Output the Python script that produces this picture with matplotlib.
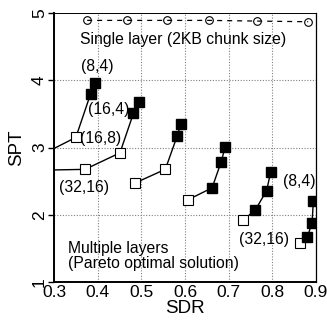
import matplotlib
matplotlib.use("Agg")
import matplotlib.pyplot as plt

plt.rcParams['font.family'] = ['Liberation Sans', 'DejaVu Sans']

# Single layer (2KB chunk size)
single_sdr = [0.376, 0.467, 0.559, 0.656, 0.765, 0.882]
single_spt = [4.89, 4.89, 4.89, 4.89, 4.88, 4.87]

# Multiple layers: each curve = (open squares, filled squares)
curves_open_sdr = [
    [0.28, 0.350],
    [0.25, 0.371, 0.451],
    [0.485, 0.555],
    [0.606],
    [0.733],
    [0.863],
]
curves_open_spt = [
    [2.92, 3.15],
    [2.66, 2.675, 2.92],
    [2.47, 2.676],
    [2.22],
    [1.92],
    [1.585],
]
curves_fill_sdr = [
    [0.384, 0.394],
    [0.482, 0.494],
    [0.582, 0.591],
    [0.662, 0.683, 0.692],
    [0.761, 0.787, 0.796],
    [0.880, 0.891, 0.894],
]
curves_fill_spt = [
    [3.80, 3.96],
    [3.51, 3.68],
    [3.17, 3.35],
    [2.40, 2.79, 3.01],
    [2.07, 2.36, 2.63],
    [1.665, 1.88, 2.21],
]

labels = ["(8,4)", "(16,4)", "(16,8)", "(32,16)", "(8,4)", "(32,16)"]
label_x = [0.398, 0.426, 0.406, 0.369, 0.861, 0.780]
label_y = [4.20, 3.56, 3.14, 2.41, 2.49, 1.625]

fig = plt.figure(figsize=(3.27, 3.25), dpi=100)
ax = fig.add_axes([54 / 327, 1 - 282 / 325, 262 / 327, 269 / 325])

ax.plot(single_sdr, single_spt, color='black', linestyle=(0, (4, 4)), lw=0.9,
        marker='o', markersize=5.5, markerfacecolor='none', markeredgewidth=0.8)

for osx, osy, fsx, fsy in zip(curves_open_sdr, curves_open_spt,
                              curves_fill_sdr, curves_fill_spt):
    ax.plot(osx + fsx, osy + fsy, color='black', lw=1.0)
    ax.plot(osx, osy, linestyle='none', marker='s', markersize=6.5,
            markerfacecolor='white', markeredgecolor='black', markeredgewidth=0.8)
    ax.plot(fsx, fsy, linestyle='none', marker='s', markersize=7,
            markerfacecolor='black', markeredgecolor='black')

for txt, tx, ty in zip(labels, label_x, label_y):
    ax.text(tx, ty, txt, ha='center', va='center', fontsize=11.3)

ax.text(0.596, 4.61, "Single layer (2KB chunk size)", ha='center', va='center', fontsize=11.3)
ax.text(0.331, 1.38, "Multiple layers\n(Pareto optimal solution)", ha='left', va='center',
        fontsize=11.3, linespacing=1.0)

ax.set_xlim(0.3, 0.9)
ax.set_ylim(1, 5)
ax.set_xticks([0.3, 0.4, 0.5, 0.6, 0.7, 0.8, 0.9])
ax.set_xticklabels(["0.3", "0.4", "0.5", "0.6", "0.7", "0.8", "0.9"])
ax.set_yticks([1, 2, 3, 4, 5])
ax.tick_params(axis='x', length=0, labelsize=12.5, pad=2)
ax.tick_params(axis='y', length=4, width=1, labelsize=12.5, pad=1)
for lab in ax.get_yticklabels():
    lab.set_rotation(90)
    lab.set_va('center')
ax.grid(True, linestyle=(0, (1, 1.5)), color='gray', lw=0.8)
ax.set_xlabel("SDR", fontsize=13.5, labelpad=0)
ax.set_ylabel("SPT", fontsize=13.5, labelpad=5)
ax.spines['left'].set_linewidth(1.4)
ax.spines['bottom'].set_linewidth(1.4)
ax.spines['top'].set_linewidth(0.7)
ax.spines['right'].set_linewidth(0.9)

fig.savefig("out.png", dpi=100)
